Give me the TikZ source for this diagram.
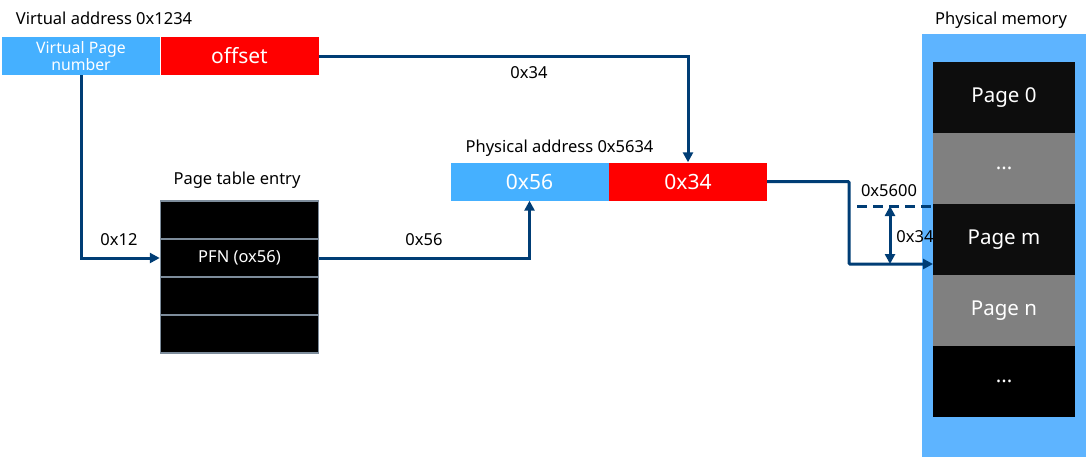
\documentclass[tikz,border=0pt]{standalone}
\usepackage{fontspec}
\setmainfont{Noto Sans}
\usetikzlibrary{arrows.meta}
\definecolor{lineblue}{RGB}{0,61,117}
\definecolor{vpnblue}{RGB}{69,176,255}
\definecolor{membg}{RGB}{94,180,255}
\definecolor{pagegrey}{RGB}{128,128,128}
\definecolor{pageblack}{RGB}{13,13,13}
\definecolor{rowedge}{RGB}{125,140,155}
\newcommand{\pgdots}{...}
\begin{document}
\begin{tikzpicture}[x=1pt,y=-1pt,
  field/.style={minimum width=158pt,minimum height=38pt,inner sep=0pt,text=white,font=\fontsize{21}{23}\selectfont},
  ptrow/.style={draw=rowedge,line width=1.5pt,fill=black,minimum width=158pt,minimum height=37.75pt,inner sep=0pt,text=white,font=\fontsize{16.5}{18}\selectfont},
  page/.style={minimum width=142pt,minimum height=71pt,inner sep=0pt,text=white,font=\fontsize{20.5}{22}\selectfont},
  caption/.style={font=\fontsize{16.5}{18}\selectfont,inner sep=0pt},
  conn/.style={draw=lineblue,line width=3pt,-{Triangle[length=10pt,width=10pt]}}]
\useasboundingbox (0,0) rectangle (1091,464);
% virtual address
\node[caption] (vacap) at (104,18) {Virtual address 0x1234};
\node[field,fill=vpnblue,font=\fontsize{15.8}{17}\selectfont,align=center] (vpn) at (81,56) {Virtual Page\\number};
\node[field,fill=red] (off) at (239.5,56) {offset};
% page table
\node[caption] (ptecap) at (237,180) {Page table entry};
\foreach \y/\name/\txt in {220/pte1/,258/pte2/{PFN (ox56)},296/pte3/,334/pte4/}
  \node[ptrow] (\name) at (239.5,\y) {\txt};
% physical address
\node[caption] (pacap) at (559.5,148) {Physical address 0x5634};
\node[field,fill=vpnblue] (pa56) at (529.5,181.5) {0x56};
\node[field,fill=red] (pa34) at (688,181.5) {0x34};
% physical memory
\node[caption] (memcap) at (1001,20) {Physical memory};
\node[fill=membg,minimum width=164pt,minimum height=423pt,inner sep=0pt] (mem) at (1004,245.5) {};
\foreach \y/\name/\col/\txt in {97.5/pg0/pageblack/Page 0,168.5/pgd1/pagegrey/\pgdots,239.5/pgm/pageblack/Page m,310.5/pgn/pagegrey/Page n,381.5/pgd2/black/\pgdots}
  \node[page,fill=\col] (\name) at (1004,\y) {\txt};
% connectors
\draw[conn] (off.east) -| (pa34.north);
\node[caption] (offlbl) at (529,73) {0x34};
\draw[conn] (vpn.south) |- (pte2.west);
\node[caption] (vpnlbl) at (119,240) {0x12};
\draw[conn] (pte2.east) -| (pa56.south);
\node[caption] (pfnlbl) at (424,240) {0x56};
\coordinate (bend) at (849,264);
\coordinate (hit) at (933,264);
\draw[conn,rounded corners=1pt] (pa34.east) -| (bend) -- (hit);
\coordinate (basel) at (857,206);
\coordinate (baser) at (937,206);
\draw[lineblue,line width=3pt,dash pattern=on 10pt off 6pt] (basel) -- (baser);
\node[caption] (baselbl) at (889,191) {0x5600};
\coordinate (offtop) at (890,206);
\coordinate (offbot) at (890,264);
\draw[conn,{Triangle[length=10pt,width=10pt]}-{Triangle[length=10pt,width=10pt]}] (offtop) -- (offbot);
\node[caption] (offslbl) at (915,237) {0x34};
\end{tikzpicture}
\end{document}
